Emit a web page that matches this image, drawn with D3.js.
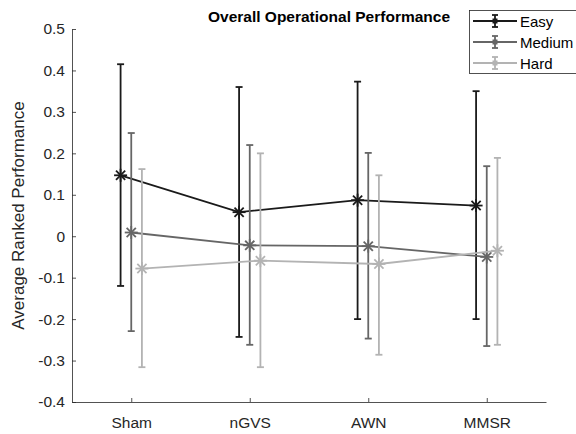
<!DOCTYPE html>
<html>
<head>
<meta charset="utf-8">
<script src="https://cdn.jsdelivr.net/npm/d3@7"></script>
<style>
  body { margin: 0; background: #fff; }
  svg { font-family: "Liberation Sans", Arial, sans-serif; display: block; }
</style>
</head>
<body>
<svg id="chart" width="576" height="434"></svg>
<script>
// Data
const categories = ['Sham', 'nGVS', 'AWN', 'MMSR'];
const seriesNames = ['Easy', 'Medium', 'Hard'];

const easyMean = [0.147, 0.058, 0.087, 0.074];
const easyUpper = [0.415, 0.360, 0.373, 0.350];
const easyLower = [-0.120, -0.243, -0.200, -0.200];

const mediumMean = [0.009, -0.022, -0.024, -0.050];
const mediumUpper = [0.249, 0.220, 0.201, 0.169];
const mediumLower = [-0.229, -0.262, -0.247, -0.265];

const hardMean = [-0.078, -0.059, -0.067, -0.035];
const hardUpper = [0.162, 0.200, 0.147, 0.189];
const hardLower = [-0.316, -0.316, -0.286, -0.262];

const yTicks = [-0.4, -0.3, -0.2, -0.1, 0, 0.1, 0.2, 0.3, 0.4, 0.5];

const colours = ['#1a1a1a', '#666666', '#b3b3b3'];
const offsets = [-0.09, 0, 0.09];
const series = seriesNames.map((name, i) => ({
    name: name,
    colour: colours[i],
    offset: offsets[i],
    mean: [easyMean, mediumMean, hardMean][i],
    upper: [easyUpper, mediumUpper, hardUpper][i],
    lower: [easyLower, mediumLower, hardLower][i],
}));

// Dimensions
const svg = d3.select('#chart');
const margins = { left: 72, top: 29, right: 30, bottom: 32 };
const width = 576;
const height = 434;
const innerWidth = width - margins.left - margins.right;
const innerHeight = height - margins.top - margins.bottom;
const axisColour = '#262626';

// Scales
const x = d3.scaleLinear().domain([0.5, categories.length + 0.5]).range([0, innerWidth]);
const y = d3.scaleLinear().domain([-0.4, 0.5]).range([innerHeight, 0]);

const plot = svg.append('g')
    .attr('transform', `translate(${margins.left}, ${margins.top})`);

// Axes (ticks pointing inward, MATLAB style)
const xAxis = d3.axisBottom(x)
    .tickValues(categories.map((d, i) => i + 1))
    .tickFormat((d) => categories[d - 1])
    .tickSizeInner(-4)
    .tickSizeOuter(0)
    .tickPadding(15);

const yAxis = d3.axisLeft(y)
    .tickValues(yTicks)
    .tickFormat((d) => d === 0 ? '0' : d3.format('.1f')(d).replace('−', '-'))
    .tickSizeInner(-4)
    .tickSizeOuter(0)
    .tickPadding(7);

const xAxisContainer = plot.append('g')
    .attr('class', 'x-axis')
    .attr('transform', `translate(0, ${innerHeight})`)
    .call(xAxis);

const yAxisContainer = plot.append('g')
    .attr('class', 'y-axis')
    .call(yAxis);

[xAxisContainer, yAxisContainer].forEach((g) => {
    g.select('.domain').attr('stroke', axisColour).attr('stroke-width', 0.8);
    g.selectAll('.tick line').attr('stroke', axisColour).attr('stroke-width', 0.8);
    g.selectAll('.tick text')
        .attr('fill', axisColour)
        .style('font-size', '15.5px');
});

// Axis label and title
svg.append('text')
    .attr('transform', `translate(24, ${margins.top + innerHeight / 2}) rotate(-90)`)
    .attr('text-anchor', 'middle')
    .attr('fill', axisColour)
    .style('font-size', '17px')
    .text('Average Ranked Performance');

svg.append('text')
    .attr('x', 329)
    .attr('y', 22)
    .attr('text-anchor', 'middle')
    .attr('fill', '#000')
    .style('font-size', '15.5px')
    .style('font-weight', 'bold')
    .text('Overall Operational Performance');

// Marker: asterisk (plus + cross)
function asterisk(g, cx, cy, r, colour, strokeWidth) {
    const d = r * Math.SQRT1_2;
    const segs = [
        [cx - r, cy, cx + r, cy],
        [cx, cy - r, cx, cy + r],
        [cx - d, cy - d, cx + d, cy + d],
        [cx - d, cy + d, cx + d, cy - d],
    ];
    segs.forEach((s) => {
        g.append('line')
            .attr('x1', s[0]).attr('y1', s[1])
            .attr('x2', s[2]).attr('y2', s[3])
            .attr('stroke', colour)
            .attr('stroke-width', strokeWidth);
    });
}

const line = d3.line()
    .x((d) => x(d.x))
    .y((d) => y(d.y));

// Draw series
const capHalf = 3.5;
series.forEach((s) => {
    const g = plot.append('g').attr('class', 'series');
    const pts = s.mean.map((m, i) => ({ x: i + 1 + s.offset, y: m, lo: s.lower[i], hi: s.upper[i] }));

    // Error bars
    pts.forEach((p) => {
        const px = x(p.x);
        g.append('line')
            .attr('x1', px).attr('x2', px)
            .attr('y1', y(p.lo)).attr('y2', y(p.hi))
            .attr('stroke', s.colour).attr('stroke-width', 1.8);
        [p.lo, p.hi].forEach((v) => {
            g.append('line')
                .attr('x1', px - capHalf).attr('x2', px + capHalf)
                .attr('y1', y(v)).attr('y2', y(v))
                .attr('stroke', s.colour).attr('stroke-width', 1.8);
        });
    });

    g.append('path')
        .datum(pts)
        .attr('d', line)
        .attr('fill', 'none')
        .attr('stroke', s.colour)
        .attr('stroke-width', 1.8);

    pts.forEach((p) => asterisk(g, x(p.x), y(p.y), 6.5, s.colour, 1.8));
});

// Legend
const legend = svg.append('g').attr('class', 'legend');
legend.append('rect')
    .attr('x', 469.5).attr('y', 10.5)
    .attr('width', 110).attr('height', 63)
    .attr('fill', '#fff')
    .attr('stroke', axisColour)
    .attr('stroke-width', 0.8);

series.forEach((s, i) => {
    const ly = 21 + i * 21;
    const item = legend.append('g').attr('class', 'legend-item');
    item.append('line')
        .attr('x1', 473).attr('x2', 517)
        .attr('y1', ly).attr('y2', ly)
        .attr('stroke', s.colour).attr('stroke-width', 1.8);
    item.append('line')
        .attr('x1', 495).attr('x2', 495)
        .attr('y1', ly - 6).attr('y2', ly + 6)
        .attr('stroke', s.colour).attr('stroke-width', 1.8);
    [ly - 6, ly + 6].forEach((cy) => {
        item.append('line')
            .attr('x1', 492).attr('x2', 498)
            .attr('y1', cy).attr('y2', cy)
            .attr('stroke', s.colour).attr('stroke-width', 1.8);
    });
    item.append('rect')
        .attr('x', 492.5).attr('y', ly - 2.5)
        .attr('width', 5).attr('height', 5)
        .attr('fill', s.colour);
    item.append('text')
        .attr('x', 520).attr('y', ly + 5.5)
        .attr('fill', '#000')
        .style('font-size', '15px')
        .text(s.name);
});
</script>
</body>
</html>
